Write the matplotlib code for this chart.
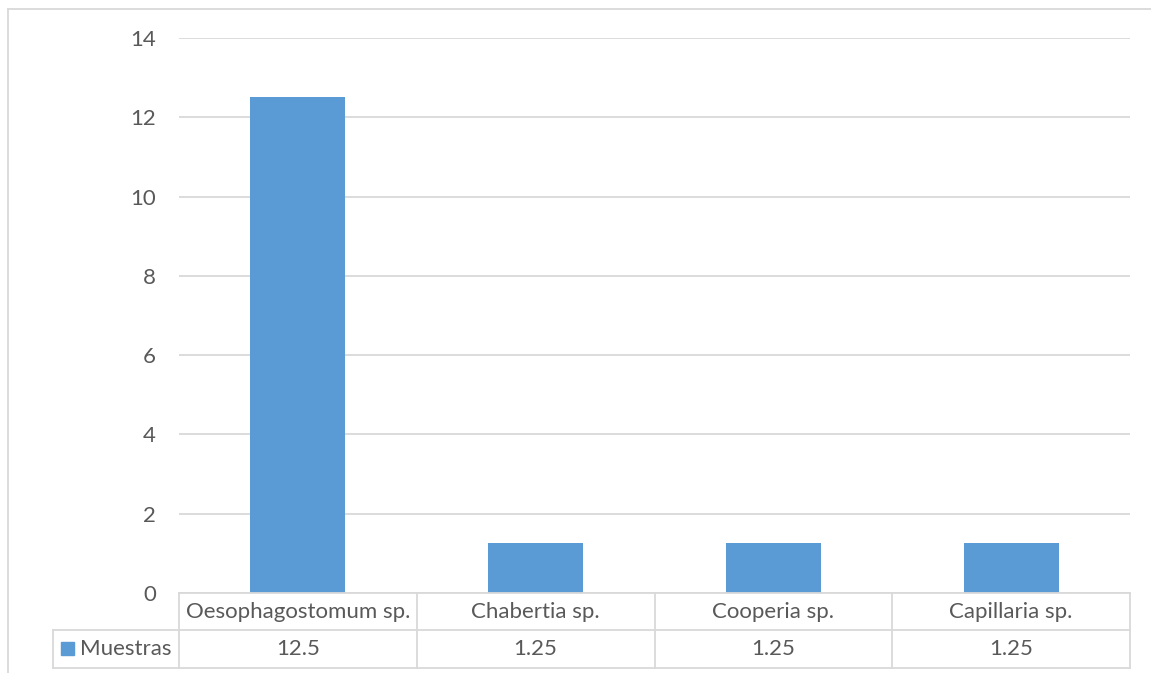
import matplotlib
matplotlib.use("Agg")
import matplotlib.pyplot as plt
from matplotlib.lines import Line2D
from matplotlib.patches import Rectangle
import matplotlib.transforms as mtransforms

categories = ["Oesophagostomum sp.", "Chabertia sp.", "Cooperia sp.", "Capillaria sp."]
muestras = [12.5, 1.25, 1.25, 1.25]
value_labels = ["12.5", "1.25", "1.25", "1.25"]
series_name = "Muestras"
yticks = [0, 2, 4, 6, 8, 10, 12, 14]

W, H = 1151, 673
bar_color = "#5B9BD5"
text_color = "#595959"
grid_color = "#D9D9D9"
fs = 16

plt.rcParams["font.family"] = ["Lato", "DejaVu Sans"]

fig = plt.figure(figsize=(W / 100, H / 100), dpi=100)
ax = fig.add_axes([179 / W, (H - 593) / H, (1130 - 179) / W, (593 - 38) / H])

x = list(range(len(categories)))
ax.bar(x, muestras, width=0.4, color=bar_color, zorder=2)
ax.set_xlim(-0.5, len(categories) - 0.5)
ax.set_ylim(0, 14)
ax.set_yticks(yticks)
ax.set_yticklabels([str(t) for t in yticks], fontsize=fs, color=text_color)
ax.tick_params(axis="y", length=0, pad=16.5)
ax.set_xticks([])
ax.grid(axis="y", color=grid_color, linewidth=1.3, zorder=0)
for s in ax.spines.values():
    s.set_visible(False)

# data table under the plot: x in data units, y in pixels from the top
trans = mtransforms.blended_transform_factory(ax.transData, fig.transFigure)

def fy(pix_from_top):
    return (H - pix_from_top) / H

y_top, y_mid, y_bot = fy(593), fy(630), fy(667.5)
lw = 1.3
n = len(categories)
# horizontal lines
fig.add_artist(Line2D([-0.5, n - 0.5], [y_top, y_top], transform=trans, color=grid_color, lw=lw))
fig.add_artist(Line2D([53 / W, 1130 / W], [y_mid, y_mid], transform=fig.transFigure, color=grid_color, lw=lw))
fig.add_artist(Line2D([53 / W, 1130 / W], [y_bot, y_bot], transform=fig.transFigure, color=grid_color, lw=lw))
# vertical lines
for i in range(n + 1):
    fig.add_artist(Line2D([i - 0.5, i - 0.5], [y_top, y_bot], transform=trans, color=grid_color, lw=lw))
fig.add_artist(Line2D([53 / W, 53 / W], [y_mid, y_bot], transform=fig.transFigure, color=grid_color, lw=lw))

for i, (cat, lab) in enumerate(zip(categories, value_labels)):
    fig.text(i, (y_top + y_mid) / 2, cat, transform=trans, ha="center", va="center",
             fontsize=fs, color=text_color)
    fig.text(i, (y_mid + y_bot) / 2, lab, transform=trans, ha="center", va="center",
             fontsize=fs, color=text_color)

# legend key in the first column
fig.add_artist(Rectangle((61 / W, fy(655)), 13 / W, 13 / H, transform=fig.transFigure,
                         color=bar_color))
fig.text(80 / W, (y_mid + y_bot) / 2, series_name, ha="left", va="center",
         fontsize=fs, color=text_color)

# outer chart frame
fig.add_artist(Line2D([8 / W, 1], [fy(9), fy(9)], transform=fig.transFigure, color=grid_color, lw=1.3))
fig.add_artist(Line2D([8 / W, 8 / W], [0, fy(9)], transform=fig.transFigure, color=grid_color, lw=1.3))

fig.savefig("out.png", dpi=100)
